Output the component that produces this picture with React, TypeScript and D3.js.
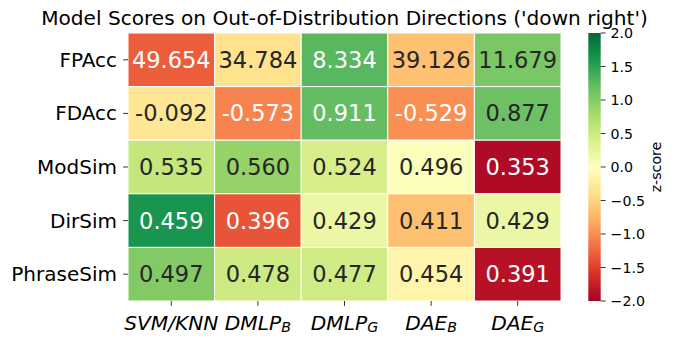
import React from "react";
import * as d3 from "d3";

const metrics = ["FPAcc", "FDAcc", "ModSim", "DirSim", "PhraseSim"];
const modelBase = ["SVM/KNN", "DMLP", "DMLP", "DAE", "DAE"];
const modelSub = ["", "B", "G", "B", "G"];
const rowFPAcc = [49.654, 34.784, 8.334, 39.126, 11.679];
const rowFDAcc = [-0.092, -0.573, 0.911, -0.529, 0.877];
const rowModSim = [0.535, 0.56, 0.524, 0.496, 0.353];
const rowDirSim = [0.459, 0.396, 0.429, 0.411, 0.429];
const rowPhraseSim = [0.497, 0.478, 0.477, 0.454, 0.391];
const lowerIsBetter = [true, false, false, false, false];
const cbarTicks = [-2, -1.5, -1, -0.5, 0, 0.5, 1, 1.5, 2];
const rdylgn = ["#a50026", "#d73027", "#f46d43", "#fdae61", "#fee08b", "#ffffbf", "#d9ef8b", "#a6d96a", "#66bd63", "#1a9850", "#006837"];

const rows = [rowFPAcc, rowFDAcc, rowModSim, rowDirSim, rowPhraseSim];

const W = 674, H = 343;
const left = 128, right = 561, top = 33, bottom = 301;
const cbX0 = 588.3, cbX1 = 600.7;
const FONT = "DejaVu Sans, sans-serif";

const colorScale = d3
  .scaleLinear<string>()
  .domain(rdylgn.map((_, i) => -2 + (4 * i) / (rdylgn.length - 1)))
  .range(rdylgn)
  .interpolate(d3.interpolateRgb)
  .clamp(true);

function zscores(arr: number[], flip: boolean) {
  const m = d3.mean(arr)!;
  const sd = Math.sqrt(d3.mean(arr.map((v) => (v - m) ** 2))!);
  return arr.map((v) => ((flip ? -1 : 1) * (v - m)) / sd);
}

function lum(c: string) {
  const rgb = d3.rgb(c);
  const f = (v: number) => {
    const x = v / 255;
    return x <= 0.03928 ? x / 12.92 : Math.pow((x + 0.055) / 1.055, 2.4);
  };
  return 0.2126 * f(rgb.r) + 0.7152 * f(rgb.g) + 0.0722 * f(rgb.b);
}

export default function App() {
  const x = d3.scaleBand<number>().domain(d3.range(modelBase.length)).range([left, right]);
  const y = d3.scaleBand<number>().domain(d3.range(metrics.length)).range([top, bottom]);
  const cy = d3.scaleLinear().domain([-2, 2]).range([bottom, top]);
  const z = rows.map((r, i) => zscores(r, lowerIsBetter[i]));

  return (
    <svg width={W} height={H} style={{ position: "absolute", left: 0, top: 0, background: "#fff" }} fontFamily={FONT}>
      <defs>
        <linearGradient id="cbg" x1="0" y1="1" x2="0" y2="0">
          {rdylgn.map((c, i) => (
            <stop key={i} offset={i / (rdylgn.length - 1)} stopColor={c} />
          ))}
        </linearGradient>
      </defs>
      <text x={(left + right) / 2} y={25.3} textAnchor="middle" fontSize={20.1} fill="#000">
        Model Scores on Out-of-Distribution Directions ('down right')
      </text>
      {rows.map((r, i) =>
        r.map((v, j) => {
          const c = colorScale(z[i][j]);
          const tc = lum(c) > 0.408 ? "#262626" : "#ffffff";
          return (
            <g key={`${i}-${j}`}>
              <rect x={x(j)!} y={y(i)!} width={x.bandwidth()} height={y.bandwidth()} fill={c} stroke="#fff" strokeWidth={1} />
              <text
                x={x(j)! + x.bandwidth() / 2}
                y={y(i)! + y.bandwidth() / 2}
                textAnchor="middle"
                dominantBaseline="central"
                fontSize={22.5}
                fill={tc}
              >
                {v.toFixed(3)}
              </text>
            </g>
          );
        })
      )}
      {metrics.map((m, i) => {
        const yc = y(i)! + y.bandwidth() / 2;
        return (
          <g key={m}>
            <line x1={left - 4.9} x2={left} y1={yc} y2={yc} stroke="#000" strokeWidth={0.8} />
            <text x={left - 11} y={yc} textAnchor="end" dominantBaseline="central" fontSize={20} fill="#000">
              {m}
            </text>
          </g>
        );
      })}
      {modelBase.map((b, j) => {
        const xc = x(j)! + x.bandwidth() / 2;
        return (
          <g key={j}>
            <line x1={xc} x2={xc} y1={bottom} y2={bottom + 4.9} stroke="#000" strokeWidth={0.8} />
            <text x={xc} y={329.5} textAnchor="middle" fontSize={20.2} fontStyle="italic" fill="#000">
              {b}
              {modelSub[j] ? (
                <tspan fontSize={14.2} dy={2.6}>
                  {modelSub[j]}
                </tspan>
              ) : null}
            </text>
          </g>
        );
      })}
      <rect x={cbX0} y={top} width={cbX1 - cbX0} height={bottom - top} fill="url(#cbg)" />
      {cbarTicks.map((t) => (
        <g key={t}>
          <line x1={cbX1} x2={cbX1 + 4.9} y1={cy(t)} y2={cy(t)} stroke="#000" strokeWidth={0.8} />
          <text x={cbX1 + 9.8} y={cy(t)} dominantBaseline="central" fontSize={14.2} fill="#000">
            {t.toFixed(1).replace("-", "\u2212")}
          </text>
        </g>
      ))}
      <text
        transform={`translate(${660.5},${(top + bottom) / 2}) rotate(-90)`}
        textAnchor="middle"
        fontSize={14.2}
        fill="#000"
      >
        z-score
      </text>
    </svg>
  );
}
